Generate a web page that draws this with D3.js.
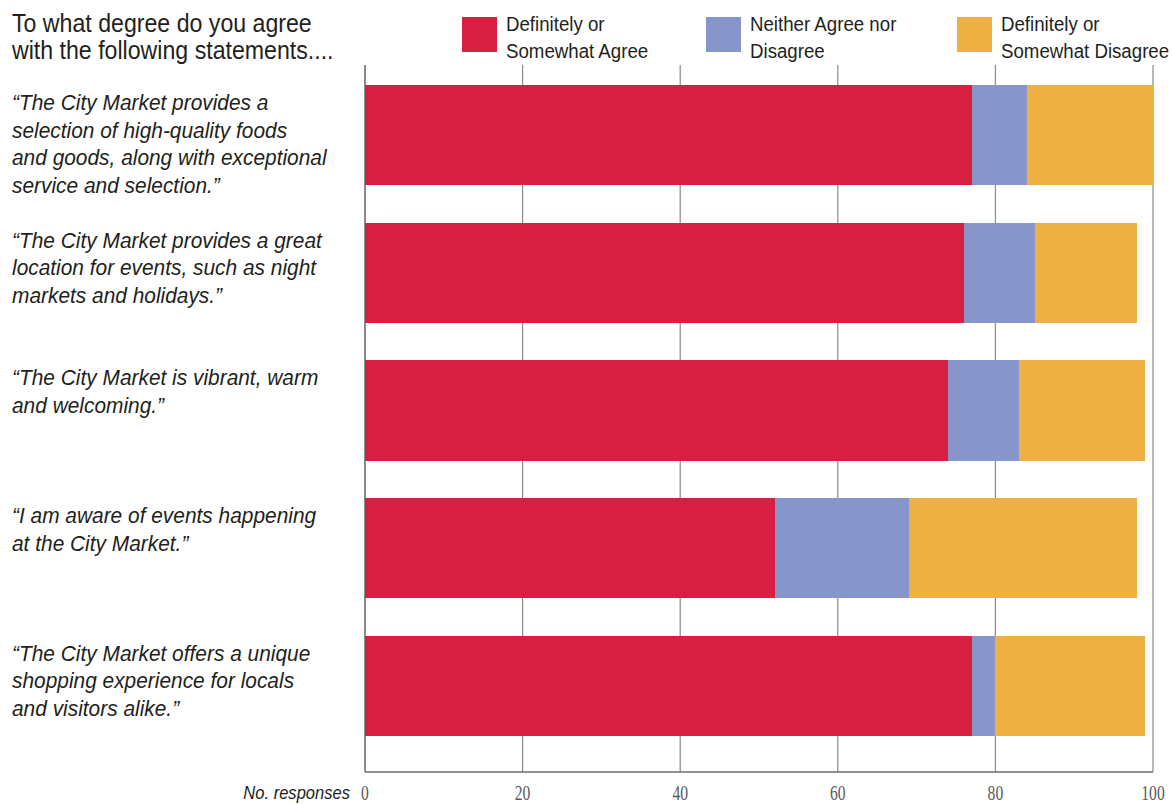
<!DOCTYPE html>
<html>
<head>
<meta charset="utf-8">
<script src="https://cdn.jsdelivr.net/npm/d3@7"></script>
<style>
  html, body { margin: 0; padding: 0; background: #fff; }
  svg { display: block; }
</style>
</head>
<body>
<svg id="chart" width="1172" height="804"></svg>
<script>
// ---- data ----
const categories = [
  "“The City Market provides a|selection of high-quality foods|and goods, along with exceptional|service and selection.”",
  "“The City Market provides a great|location for events, such as night|markets and holidays.”",
  "“The City Market is vibrant, warm|and welcoming.”",
  "“I am aware of events happening|at the City Market.”",
  "“The City Market offers a unique|shopping experience for locals|and visitors alike.”"
];
const seriesNames = ["Definitely or|Somewhat Agree", "Neither Agree nor|Disagree", "Definitely or|Somewhat Disagree"];
const agree    = [77, 76, 74, 52, 77];
const neither  = [7, 9, 9, 17, 3];
const disagree = [16, 13, 16, 29, 19];
const tickValues = [0, 20, 40, 60, 80, 100];
const titleLines = ["To what degree do you agree", "with the following statements...."];
const axisLabel = "No. responses";
const colors = ["#D71F42", "#8696CA", "#EEB042"];

// ---- layout ----
const svg = d3.select("#chart");
const x = d3.scaleLinear().domain([0, 100]).range([365, 1153]);
const y = d3.scaleBand().domain(d3.range(categories.length)).range([66, 755]).paddingInner(0.274).paddingOuter(0.138);
const gridTop = 65, axisY = 772;
const textColor = "#231f20";

function narrowText(g, str, tx, ty, size, sx, opts = {}) {
  const t = g.append("text")
    .attr("transform", `translate(${tx},${ty}) scale(${sx},1)`)
    .attr("font-family", "'Liberation Sans', Arial, sans-serif")
    .attr("font-size", size)
    .attr("fill", opts.fill || textColor)
    .attr("text-anchor", opts.anchor || "start")
    .text(str);
  if (opts.italic) t.attr("font-style", "italic");
  return t;
}

// gridlines
const grid = svg.append("g");
grid.selectAll("line").data(tickValues).join("line")
  .attr("x1", d => x(d)).attr("x2", d => x(d))
  .attr("y1", gridTop).attr("y2", axisY)
  .attr("stroke", d => d === 0 ? "#6d6e71" : "#8a8a8c")
  .attr("stroke-width", d => d === 0 ? 1.6 : 1.2);
grid.append("line")
  .attr("x1", x(0)).attr("x2", x(100))
  .attr("y1", axisY).attr("y2", axisY)
  .attr("stroke", "#6d6e71").attr("stroke-width", 1.4);

// stacked bars
const rows = categories.map((c, i) => ({ i, vals: [agree[i], neither[i], disagree[i]] }));
const stack = d3.stack().keys([0, 1, 2]).value((d, k) => d.vals[k]);
const stacked = stack(rows);
const barG = svg.append("g");
stacked.forEach((layer, k) => {
  barG.append("g").attr("fill", colors[k])
    .selectAll("rect").data(layer).join("rect")
    .attr("x", d => x(d[0]))
    .attr("width", d => x(d[1]) - x(d[0]))
    .attr("y", d => y(d.data.i))
    .attr("height", y.bandwidth())
    .attr("shape-rendering", "crispEdges");
});

// category labels
const labG = svg.append("g");
categories.forEach((c, i) => {
  c.split("|").forEach((line, j) => {
    narrowText(labG, line, 12, y(i) + 25 + j * 27.5, 22, 0.95, { italic: true });
  });
});

// title
titleLines.forEach((line, j) => {
  narrowText(svg, line, 12, 32 + j * 27, 26, 0.89);
});

// legend
const legX = [462, 706, 957];
seriesNames.forEach((name, k) => {
  svg.append("rect").attr("x", legX[k]).attr("y", 17).attr("width", 35).attr("height", 35).attr("fill", colors[k]);
  name.split("|").forEach((line, j) => {
    narrowText(svg, line, legX[k] + 44, 31 + j * 27, 21, 0.89);
  });
});

// x axis tick labels
const tickG = svg.append("g");
tickValues.forEach(v => {
  tickG.append("text")
    .attr("transform", `translate(${x(v)},800) scale(0.78,1)`)
    .attr("text-anchor", "middle")
    .attr("font-family", "'Liberation Serif', 'Times New Roman', serif")
    .attr("font-size", 20)
    .attr("fill", "#58595b")
    .text(v);
});
narrowText(svg, axisLabel, 350, 799, 18, 0.92, { italic: true, anchor: "end" });
</script>
</body>
</html>
